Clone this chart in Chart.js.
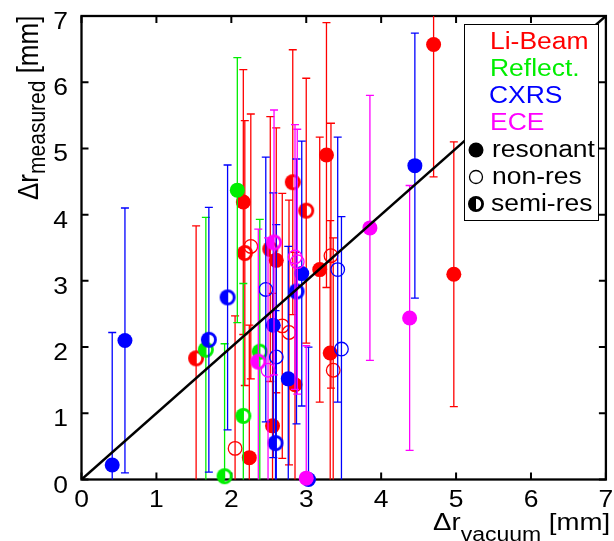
<!DOCTYPE html>
<html lang="en">
<head>
  <meta charset="UTF-8">
  <title>Delta r measured vs vacuum</title>
  <script src="https://cdn.jsdelivr.net/npm/chart.js"></script>
  <style>
    html, body { margin: 0; padding: 0; background: #fff; }
  </style>
</head>
<body>
  <canvas id="chart" width="614" height="541"></canvas>

  <script>
    // values (mm); every point has a +-2 mm error bar
    const axisTicks = [0, 1, 2, 3, 4, 5, 6, 7];

    const liX = [1.53, 2.05, 2.16, 2.18, 2.24, 2.26, 2.52, 2.55, 2.60, 2.68, 2.77, 2.82, 2.85, 3.00, 3.18, 3.27, 3.32, 3.33, 3.36, 4.70, 4.97];
    const liY = [1.83, 0.47, 4.19, 3.42, 0.33, 3.52, 3.48, 0.81, 3.31, 2.32, 2.22, 4.49, 1.43, 4.06, 3.17, 4.90, 1.91, 3.38, 1.65, 6.57, 3.10];
    const liErr = [2, 2, 2, 2, 2, 2, 2, 2, 2, 2, 2, 2, 2, 2, 2, 2, 2, 2, 2, 2, 2];
    const liKind = ['semi', 'open', 'res', 'semi', 'res', 'open', 'semi', 'res', 'res', 'open', 'open', 'semi', 'res', 'semi', 'res', 'res', 'res', 'open', 'open', 'res', 'res'];

    const reflX = [1.66, 1.91, 2.08, 2.16, 2.38];
    const reflY = [1.96, 0.05, 4.37, 0.96, 1.93];
    const reflErr = [2, 2, 2, 2, 2];
    const reflKind = ['semi', 'semi', 'res', 'semi', 'semi'];

    const cxrsX = [0.41, 0.58, 1.70, 1.95, 2.46, 2.56, 2.59, 2.60, 2.76, 2.87, 2.94, 3.03, 3.42, 3.47, 4.45];
    const cxrsY = [0.22, 2.10, 2.11, 2.75, 2.87, 2.33, 0.55, 1.85, 1.52, 2.84, 3.11, 0.00, 3.17, 1.97, 4.74];
    const cxrsErr = [2, 2, 2, 2, 2, 2, 2, 2, 2, 2, 2, 2, 2, 2, 2];
    const cxrsKind = ['res', 'res', 'semi', 'semi', 'open', 'res', 'semi', 'open', 'res', 'semi', 'res', 'res', 'open', 'open', 'res'];

    const eceX = [2.36, 2.49, 2.57, 2.85, 2.88, 3.00, 3.85, 4.38];
    const eceY = [1.78, 1.65, 3.58, 3.36, 3.29, 0.02, 3.80, 2.44];
    const eceErr = [2, 2, 2, 2, 2, 2, 2, 2];
    const eceKind = ['semi', 'open', 'semi', 'open', 'open', 'res', 'res', 'res'];

    // y = x reference line
    const diagX = [0, 7];
    const diagY = [0, 7];

    const FONT = '"Liberation Sans", Arial, Helvetica, sans-serif';
    const HS = 1.15; // the original figure is a bit wider than tall

    // half filled marker for "semi-res"
    function semiMarker(color) {
      const c = document.createElement('canvas');
      c.width = 20;
      c.height = 20;
      const g = c.getContext('2d');
      g.fillStyle = color;
      g.strokeStyle = color;
      g.beginPath();
      g.arc(10, 10, 8, Math.PI / 2, Math.PI * 1.5);
      g.closePath();
      g.fill();
      g.lineWidth = 2.8;
      g.beginPath();
      g.arc(10, 10, 6.6, -Math.PI / 2, Math.PI / 2);
      g.stroke();
      return c;
    }

    function series(label, xs, ys, errs, kinds, color, order) {
      const semi = semiMarker(color);
      return {
        label: label,
        order: order,
        clip: false,
        showLine: false,
        err: errs,
        barColor: color,
        data: xs.map((x, i) => ({ x: x, y: ys[i] })),
        pointStyle: c => kinds[c.dataIndex] === 'semi' ? semi : 'circle',
        pointRadius: c => kinds[c.dataIndex] === 'open' ? 6.8 : 7.5,
        pointBackgroundColor: c => kinds[c.dataIndex] === 'res' ? color : 'rgba(0,0,0,0)',
        pointBorderColor: color,
        pointBorderWidth: c => kinds[c.dataIndex] === 'open' ? 1.3 : 0
      };
    }

    function txt(ctx, s, x, y, size, color, align) {
      ctx.save();
      ctx.font = size + 'px ' + FONT;
      ctx.fillStyle = color;
      const w = ctx.measureText(s).width * HS;
      const x0 = align === 'right' ? x - w : align === 'center' ? x - w / 2 : x;
      ctx.translate(x0, y);
      ctx.scale(HS, 1);
      ctx.textAlign = 'left';
      ctx.textBaseline = 'alphabetic';
      ctx.fillText(s, 0, 0);
      ctx.restore();
      return w;
    }

    // main text + subscript + unit, drawn in the current (transformed) context
    function subLabel(ctx, main, sub, unit, size, subSize, drop) {
      ctx.fillStyle = '#000';
      ctx.textBaseline = 'alphabetic';
      ctx.font = size + 'px ' + FONT;
      ctx.fillText(main, 0, 0);
      let w = ctx.measureText(main).width;
      ctx.font = subSize + 'px ' + FONT;
      ctx.fillText(sub, w, drop);
      w += ctx.measureText(sub).width;
      ctx.font = size + 'px ' + FONT;
      ctx.fillText(unit, w, 0);
    }

    const errorBars = {
      id: 'errorBars',
      beforeDatasetDraw(chart, args) {
        const ds = chart.data.datasets[args.index];
        if (!ds.err) return;
        const ctx = chart.ctx;
        const a = chart.chartArea;
        const sx = chart.scales.x, sy = chart.scales.y;
        ctx.save();
        ctx.beginPath();
        ctx.rect(a.left, a.top, a.right - a.left, a.bottom - a.top);
        ctx.clip();
        ctx.strokeStyle = ds.barColor;
        ctx.lineWidth = 1.3;
        ds.data.forEach((p, i) => {
          const px = sx.getPixelForValue(p.x);
          const top = sy.getPixelForValue(p.y + ds.err[i]);
          const bot = sy.getPixelForValue(p.y - ds.err[i]);
          ctx.beginPath();
          ctx.moveTo(px, top);
          ctx.lineTo(px, bot);
          ctx.moveTo(px - 4, top);
          ctx.lineTo(px + 4, top);
          ctx.moveTo(px - 4, bot);
          ctx.lineTo(px + 4, bot);
          ctx.stroke();
        });
        ctx.restore();
      }
    };

    const frame = {
      id: 'frame',
      beforeDatasetsDraw(chart) {
        const ctx = chart.ctx;
        const a = chart.chartArea;
        const sx = chart.scales.x, sy = chart.scales.y;
        ctx.save();
        ctx.strokeStyle = '#000';
        ctx.lineWidth = 2;
        sx.ticks.forEach(t => {
          const px = sx.getPixelForValue(t.value);
          ctx.beginPath();
          ctx.moveTo(px, a.bottom);
          ctx.lineTo(px, a.bottom - 7);
          ctx.moveTo(px, a.top);
          ctx.lineTo(px, a.top + 7);
          ctx.stroke();
        });
        sy.ticks.forEach(t => {
          const py = sy.getPixelForValue(t.value);
          ctx.beginPath();
          ctx.moveTo(a.left, py);
          ctx.lineTo(a.left + 7, py);
          ctx.moveTo(a.right, py);
          ctx.lineTo(a.right - 7, py);
          ctx.stroke();
        });
        ctx.lineWidth = 2.3;
        ctx.strokeRect(a.left, a.top, a.right - a.left, a.bottom - a.top);
        ctx.restore();

        sx.ticks.forEach(t => txt(ctx, String(t.value), sx.getPixelForValue(t.value), 507, 23, '#000', 'center'));
        sy.ticks.forEach(t => txt(ctx, String(t.value), 68, sy.getPixelForValue(t.value) + 13, 23, '#000', 'right'));

        // axis titles
        ctx.save();
        ctx.translate(433, 530);
        ctx.scale(HS, 1);
        subLabel(ctx, '\u0394r', 'vacuum', ' [mm]', 24, 20, 11);
        ctx.restore();

        ctx.save();
        ctx.translate(38, 200);
        ctx.rotate(-Math.PI / 2);
        ctx.scale(1, HS);
        subLabel(ctx, '\u0394r', 'measured', ' [mm]', 26, 21, 6);
        ctx.restore();
      }
    };

    const legendBox = {
      id: 'legendBox',
      afterDraw(chart) {
        const ctx = chart.ctx;
        ctx.save();
        ctx.fillStyle = '#fff';
        ctx.fillRect(464.5, 24.5, 134, 196);
        ctx.strokeStyle = '#000';
        ctx.lineWidth = 1;
        ctx.strokeRect(464.5, 24.5, 134, 196);
        ctx.restore();

        txt(ctx, 'Li-Beam', 490, 49, 23, '#ff0000', 'left');
        txt(ctx, 'Reflect.', 490, 76, 23, '#00ee00', 'left');
        txt(ctx, 'CXRS', 489, 103, 23, '#0000ff', 'left');
        txt(ctx, 'ECE', 490, 130, 23, '#ff00ff', 'left');
        txt(ctx, 'resonant', 492, 157, 23, '#000', 'left');
        txt(ctx, 'non-res', 492, 184, 23, '#000', 'left');
        txt(ctx, 'semi-res', 491, 211, 23, '#000', 'left');

        ctx.save();
        ctx.fillStyle = '#000';
        ctx.beginPath();
        ctx.arc(476, 150, 7.5, 0, Math.PI * 2);
        ctx.fill();
        ctx.strokeStyle = '#000';
        ctx.lineWidth = 1.3;
        ctx.beginPath();
        ctx.arc(476, 177, 6.5, 0, Math.PI * 2);
        ctx.stroke();
        ctx.drawImage(semiMarker('#000'), 466, 194);
        ctx.restore();
      }
    };

    const ctx = document.getElementById('chart').getContext('2d');
    new Chart(ctx, {
      type: 'scatter',
      data: {
        datasets: [
          {
            label: 'y = x',
            order: 0,
            showLine: true,
            data: diagX.map((x, i) => ({ x: x, y: diagY[i] })),
            borderColor: '#000',
            borderWidth: 2.5,
            pointRadius: 0
          },
          series('ECE', eceX, eceY, eceErr, eceKind, '#ff00ff', 1),
          series('CXRS', cxrsX, cxrsY, cxrsErr, cxrsKind, '#0000ff', 2),
          series('Reflect.', reflX, reflY, reflErr, reflKind, '#00ee00', 3),
          series('Li-Beam', liX, liY, liErr, liKind, '#ff0000', 4)
        ]
      },
      options: {
        responsive: false,
        animation: false,
        devicePixelRatio: 1,
        events: [],
        layout: { padding: { left: 81.5, right: 7.5, top: 16, bottom: 61.5 } },
        scales: {
          x: {
            type: 'linear', min: 0, max: 7,
            afterBuildTicks: s => { s.ticks = axisTicks.map(v => ({ value: v })); },
            ticks: { display: false },
            grid: { display: false, drawTicks: false },
            border: { display: false }
          },
          y: {
            type: 'linear', min: 0, max: 7,
            afterBuildTicks: s => { s.ticks = axisTicks.map(v => ({ value: v })); },
            ticks: { display: false },
            grid: { display: false, drawTicks: false },
            border: { display: false }
          }
        },
        plugins: {
          legend: { display: false },
          tooltip: { enabled: false }
        }
      },
      plugins: [frame, errorBars, legendBox]
    });
  </script>
</body>
</html>
